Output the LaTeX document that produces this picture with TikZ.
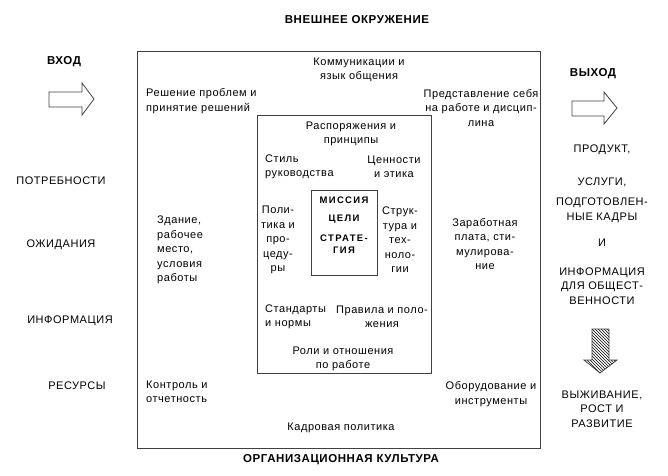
\documentclass[tikz,border=0pt]{standalone}
\usepackage{fontspec}
\setmainfont{Liberation Sans}[LetterSpace=5]
\usetikzlibrary{positioning,patterns}

\begin{document}
\begin{tikzpicture}[x=1pt, y=-1pt]
	\tikzstyle{txt}=[inner sep=0pt, align=center, font=\fontsize{11}{14.5}\selectfont]
	\tikzstyle{lft}=[txt, align=left, anchor=west]
	\tikzstyle{head}=[inner sep=0pt, font=\fontsize{11.5}{14}\selectfont\bfseries]
	\tikzstyle{core}=[inner sep=0pt, align=center, font=\fontsize{9.5}{12}\selectfont\bfseries\addfontfeature{LetterSpace=14}, node distance = 11pt]
	\tikzstyle{box}=[draw=black!75, line width=0.9pt]
	\tikzstyle{bigarrow}=[draw=black!75, line width=0.8pt, line join=miter]

	\useasboundingbox (0,0) rectangle (668,475);

	% frames
	\draw[box] (137,51) rectangle (540,448);
	\draw[box] (257,115) rectangle (431,373);
	\draw[box, fill=white] (311,190) rectangle (377,275);

	% titles
	\node[head] at (357,20) (env) {ВНЕШНЕЕ ОКРУЖЕНИЕ};
	\node[head] at (341,460) (culture) {ОРГАНИЗАЦИОННАЯ КУЛЬТУРА};
	\node[head] at (64,62) (input) {ВХОД};
	\node[head] at (593,74) (output) {ВЫХОД};

	% arrows
	\draw[bigarrow] (49,92) -- (82,92) -- (82,83) -- (94,99) -- (82,115) -- (82,107) -- (49,107) -- cycle;
	\draw[bigarrow] (572,101) -- (604,101) -- (604,92) -- (617,108) -- (604,124) -- (604,116) -- (572,116) -- cycle;
	\draw[bigarrow, pattern=north west lines] (592,329) -- (609,329) -- (609,360) -- (617,360) -- (600,373) -- (584,360) -- (592,360) -- cycle;

	% left column
	\node[txt] at (61,181) (needs) {ПОТРЕБНОСТИ};
	\node[txt] at (61,245) (expect) {ОЖИДАНИЯ};
	\node[txt] at (70,321) (info) {ИНФОРМАЦИЯ};
	\node[txt] at (77,386) (res) {РЕСУРСЫ};

	% right column
	\node[txt] at (602,150) (prod) {ПРОДУКТ,};
	\node[txt] at (602,182) (serv) {УСЛУГИ,};
	\node[txt] at (602,210) (staff) {ПОДГОТОВЛЕН-\\НЫЕ КАДРЫ};
	\node[txt] at (602,243) (and) {И};
	\node[txt] at (602,286) (pubinfo) {ИНФОРМАЦИЯ\\ДЛЯ ОБЩЕСТ-\\ВЕННОСТИ};
	\node[txt] at (602,409) (survive) {ВЫЖИВАНИЕ,\\РОСТ И\\РАЗВИТИЕ};

	% outer ring
	\node[txt] at (359,70) (comm) {Коммуникации и\\язык общения};
	\node[lft] at (146,101) (decide) {Решение проблем и\\принятие решений};
	\node[txt] at (481,108) (self) {Представление себя\\на работе и дисцип-\\лина};
	\node[lft] at (157,250) (place) {Здание,\\рабочее\\место,\\условия\\работы};
	\node[txt] at (485,244) (pay) {Заработная\\плата, сти-\\мулирова-\\ние};
	\node[lft] at (146,392) (control) {Контроль и\\отчетность};
	\node[txt] at (491,394) (equip) {Оборудование и\\инструменты};
	\node[txt] at (341,428) (hr) {Кадровая политика};

	% middle ring
	\node[txt] at (351,134) (orders) {Распоряжения и\\принципы};
	\node[lft] at (265,167) (style) {Стиль\\руководства};
	\node[txt] at (394,167) (values) {Ценности\\и этика};
	\node[txt] at (278,240) (policy) {Поли-\\тика и\\про-\\цеду-\\ры};
	\node[txt] at (400,240) (struct) {Струк-\\тура и\\тех-\\ноло-\\гии};
	\node[lft] at (265,317) (norms) {Стандарты\\и нормы};
	\node[txt] at (382,317) (rules) {Правила и поло-\\жения};
	\node[txt] at (343,359) (roles) {Роли и отношения\\по работе};

	% core
	\node[core] at (344,200) (mission) {МИССИЯ};
	\node[core] (goals) [below=of mission] {ЦЕЛИ};
	\node[core] (strategy) [below=of goals] {СТРАТЕ-\\ГИЯ};

\end{tikzpicture}
\end{document}
